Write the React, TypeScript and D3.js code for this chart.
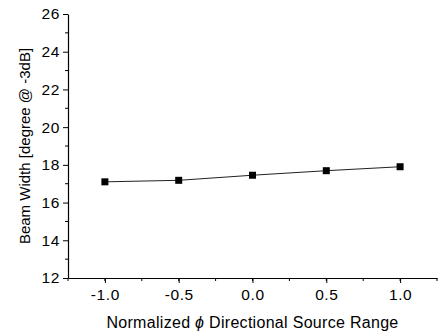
import { useEffect, useRef } from "react";
import * as d3 from "d3";

const xValues = [-1.0, -0.5, 0.0, 0.5, 1.0];
const beamWidth = [17.1, 17.18, 17.45, 17.69, 17.9];
const xTicks = [-1.0, -0.5, 0.0, 0.5, 1.0];
const yTicks = [12, 14, 16, 18, 20, 22, 24, 26];

export default function App() {
  const svgRef = useRef<SVGSVGElement | null>(null);

  useEffect(() => {
    const svg = d3.select(svgRef.current);
    svg.selectAll("*").remove();
    const W = 438;
    const H = 335;
    const margin = { top: 14, right: 1, bottom: 57, left: 68 };
    const w = W - margin.left - margin.right;
    const h = H - margin.top - margin.bottom;
    const font = "Arial, 'Liberation Sans', sans-serif";

    const g = svg
      .append("g")
      .attr("transform", `translate(${margin.left},${margin.top})`);

    const x = d3.scaleLinear().domain([-1.25, 1.25]).range([0, w]);
    const y = d3.scaleLinear().domain([12, 26]).range([h, 0]);

    // minor ticks
    const xMinor = d3.range(-1.25, 1.2501, 0.25);
    g.selectAll(".xminor")
      .data(xMinor)
      .join("line")
      .attr("x1", (d) => x(d))
      .attr("x2", (d) => x(d))
      .attr("y1", h)
      .attr("y2", h + 3)
      .attr("stroke", "#000");
    const yMinor = d3.range(13, 26, 2);
    g.selectAll(".yminor")
      .data(yMinor)
      .join("line")
      .attr("x1", 0)
      .attr("x2", -3)
      .attr("y1", (d) => y(d))
      .attr("y2", (d) => y(d))
      .attr("stroke", "#000");

    const xAxis = g
      .append("g")
      .attr("transform", `translate(0,${h})`)
      .call(
        d3
          .axisBottom(x)
          .tickValues(xTicks)
          .tickSize(5)
          .tickSizeOuter(0)
          .tickPadding(6)
          .tickFormat((v) => d3.format(".1f")(v as number).replace("\u2212", "-")),
      );
    const yAxis = g.append("g").call(
      d3
        .axisLeft(y)
        .tickValues(yTicks)
        .tickSize(5)
        .tickSizeOuter(0)
        .tickPadding(3)
        .tickFormat((v) => String(v)),
    );
    [xAxis, yAxis].forEach((a) => {
      a.select(".domain").attr("stroke", "#000").attr("stroke-width", 1.2);
      a.selectAll(".tick line").attr("stroke", "#000");
      a.selectAll(".tick text")
        .attr("fill", "#000")
        .attr("font-size", 15.5)
        .attr("letter-spacing", 0.6)
        .attr("font-family", font);
    });

    const pts = xValues.map((v, i) => [v, beamWidth[i]] as [number, number]);
    g.append("path")
      .attr(
        "d",
        d3
          .line<[number, number]>()
          .x((d) => x(d[0]))
          .y((d) => y(d[1]))(pts) ?? "",
      )
      .attr("fill", "none")
      .attr("stroke", "#222")
      .attr("stroke-width", 1);
    g.selectAll(".pt")
      .data(pts)
      .join("rect")
      .attr("x", (d) => x(d[0]) - 3.5)
      .attr("y", (d) => y(d[1]) - 3.5)
      .attr("width", 7)
      .attr("height", 7)
      .attr("fill", "#000");

    svg
      .append("text")
      .attr("transform", `translate(30,${margin.top + h / 2}) rotate(-90)`)
      .attr("text-anchor", "middle")
      .attr("font-size", 15)
      .attr("font-family", font)
      .attr("fill", "#000")
      .text("Beam Width [degree @ -3dB]");

    const xt = svg
      .append("text")
      .attr("x", margin.left + x(0))
      .attr("y", 328)
      .attr("text-anchor", "middle")
      .attr("font-size", 16)
      .attr("letter-spacing", 0.3)
      .attr("font-family", font)
      .attr("fill", "#000");
    xt.append("tspan").text("Normalized ");
    xt.append("tspan").attr("font-style", "italic").text("ϕ");
    xt.append("tspan").text(" Directional Source Range");
  }, []);

  return (
    <svg
      ref={svgRef}
      width={438}
      height={335}
      style={{ position: "absolute", left: 0, top: 0, background: "#fff" }}
    />
  );
}
